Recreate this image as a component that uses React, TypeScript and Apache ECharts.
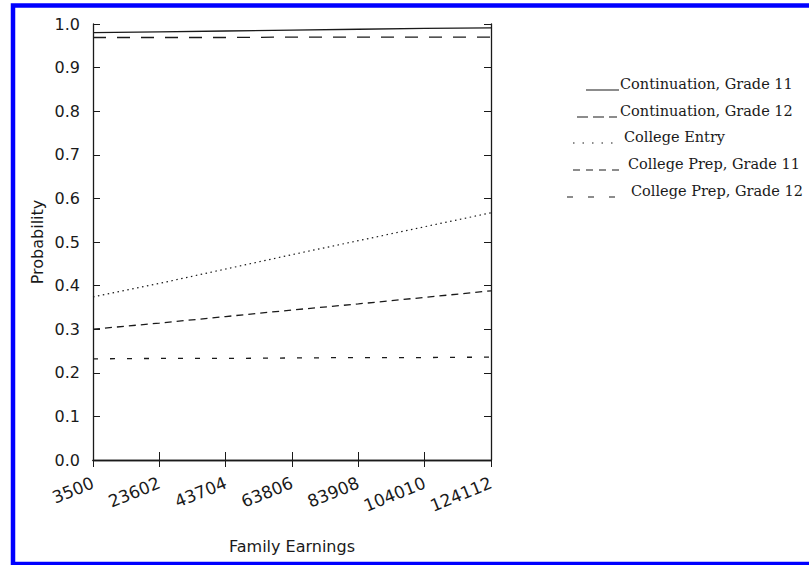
import React, { useEffect, useRef } from "react";
import * as echarts from "echarts";

const categories = ["3500", "23602", "43704", "63806", "83908", "104010", "124112"];
const yTicks = [0, 0.1, 0.2, 0.3, 0.4, 0.5, 0.6, 0.7, 0.8, 0.9, 1.0];

const seriesNames = [
  "Continuation, Grade 11",
  "Continuation, Grade 12",
  "College Entry",
  "College Prep, Grade 11",
  "College Prep, Grade 12",
];
const contG11 = [0.98, 0.982, 0.984, 0.986, 0.988, 0.99, 0.991];
const contG12 = [0.969, 0.969, 0.969, 0.97, 0.97, 0.97, 0.97];
const collegeEntry = [0.374, 0.405, 0.438, 0.471, 0.503, 0.535, 0.567];
const prepG11 = [0.3, 0.314, 0.329, 0.344, 0.358, 0.373, 0.388];
const prepG12 = [0.232, 0.233, 0.233, 0.234, 0.235, 0.235, 0.236];

const seriesData = [contG11, contG12, collegeEntry, prepG11, prepG12];
const dashes: (number[] | "solid")[] = ["solid", [13, 11], [1.5, 3.5], [7, 5], [5, 12]];
const lineWidths = [1.3, 1.3, 1.2, 1.3, 1.3];

// legend layout (positions only)
const legendRowY = [84, 111, 137, 164, 191];
const legendTextX = [620, 620, 624, 628, 631];
const legendSample: { x1: number; x2: number; dash: number[] | null }[] = [
  { x1: 586, x2: 619, dash: null },
  { x1: 577, x2: 617, dash: [11, 5] },
  { x1: 573, x2: 620, dash: [1.5, 8] },
  { x1: 573, x2: 622, dash: [7, 6] },
  { x1: 567, x2: 620, dash: [6, 15] },
];

const INK = "#1a1a1a";
const SANS = "DejaVu Sans";
const SERIF = "DejaVu Serif";

export default function App() {
  const ref = useRef<HTMLDivElement>(null);
  useEffect(() => {
    if (!ref.current) return;
    const chart = echarts.init(ref.current, null, { renderer: "svg" });

    const legendGraphics: any[] = [];
    seriesNames.forEach((name, i) => {
      const s = legendSample[i];
      legendGraphics.push({
        type: "line",
        shape: { x1: s.x1, y1: legendRowY[i] + 6, x2: s.x2, y2: legendRowY[i] + 6 },
        style: { stroke: INK, lineWidth: 1.2, lineDash: s.dash || undefined },
        silent: true,
      });
      legendGraphics.push({
        type: "text",
        x: legendTextX[i],
        y: legendRowY[i],
        style: {
          text: name,
          fill: INK,
          font: `14.5px "${SERIF}"`,
          textAlign: "left",
          textVerticalAlign: "middle",
        },
        silent: true,
      });
    });

    const option: any = {
      animation: false,
      backgroundColor: "#ffffff",
      grid: { left: 93, right: 318, top: 24, bottom: 105, containLabel: false },
      xAxis: [
        {
          type: "category",
          data: categories,
          boundaryGap: false,
          position: "bottom",
          name: "Family Earnings",
          nameLocation: "middle",
          nameGap: 78,
          nameTextStyle: { fontFamily: SANS, fontSize: 16, color: INK },
          axisLine: { show: true, lineStyle: { color: INK, width: 1.3 } },
          axisTick: { show: true, inside: true, length: 8, lineStyle: { color: INK, width: 1 } },
          axisLabel: {
            rotate: 22,
            margin: 22,
            fontFamily: SANS,
            fontSize: 17,
            color: INK,
            interval: 0,
          },
          splitLine: { show: false },
        },
        {
          type: "category",
          data: categories,
          boundaryGap: false,
          position: "top",
          axisLine: { show: true, lineStyle: { color: INK, width: 1.3 } },
          axisTick: { show: true, inside: true, length: 7, lineStyle: { color: INK, width: 1 } },
          axisLabel: { show: false },
          splitLine: { show: false },
        },
      ],
      yAxis: [
        {
          type: "value",
          min: 0,
          max: 1,
          interval: 0.1,
          position: "left",
          name: "Probability",
          nameLocation: "middle",
          nameGap: 48,
          nameTextStyle: { fontFamily: SANS, fontSize: 16, color: INK },
          axisLine: { show: true, lineStyle: { color: INK, width: 1.3 } },
          axisTick: { show: true, inside: true, length: 7, lineStyle: { color: INK, width: 1 } },
          axisLabel: {
            margin: 13,
            fontFamily: SANS,
            fontSize: 16,
            color: INK,
            formatter: (v: number) => {
              const t = yTicks.find((k) => Math.abs(k - v) < 1e-6);
              return (t !== undefined ? t : v).toFixed(1);
            },
          },
          splitLine: { show: false },
        },
        {
          type: "value",
          min: 0,
          max: 1,
          interval: 0.1,
          position: "right",
          axisLine: { show: true, lineStyle: { color: INK, width: 1.3 } },
          axisTick: { show: true, inside: true, length: 7, lineStyle: { color: INK, width: 1 } },
          axisLabel: { show: false },
          splitLine: { show: false },
        },
      ],
      series: seriesNames.map((name, i) => ({
        name,
        type: "line",
        xAxisIndex: 0,
        yAxisIndex: 0,
        data: seriesData[i],
        showSymbol: false,
        symbol: "none",
        smooth: false,
        lineStyle: { color: INK, width: lineWidths[i], type: dashes[i] },
        z: 3,
      })),
      graphic: [
        {
          type: "rect",
          shape: { x: 13, y: 5.5, width: 810, height: 558.5 },
          style: { fill: "none", stroke: "#0000ff", lineWidth: 4.5 },
          silent: true,
          z: 100,
        },
        ...legendGraphics,
      ],
    };
    chart.setOption(option);
    return () => chart.dispose();
  }, []);

  return (
    <div
      ref={ref}
      style={{ position: "absolute", left: 0, top: 0, width: 809, height: 565, background: "#fff" }}
    />
  );
}
